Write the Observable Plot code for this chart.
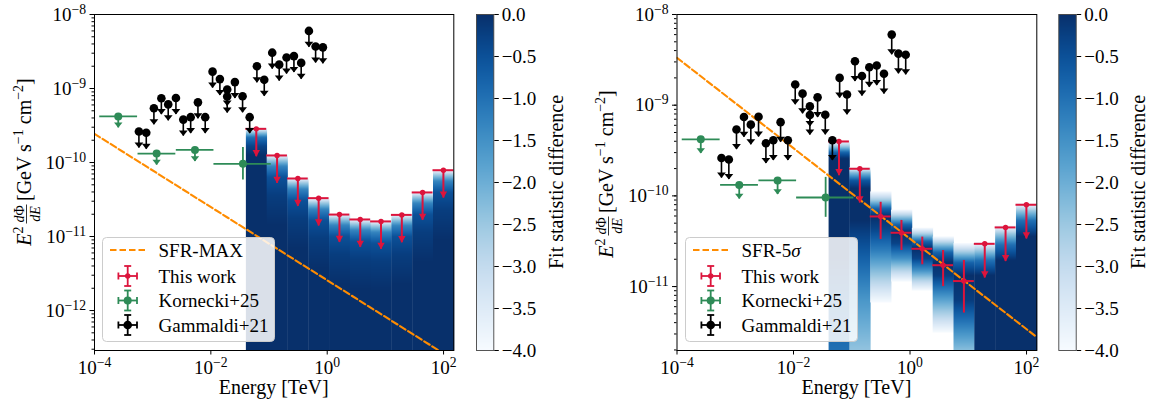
<!DOCTYPE html>
<html><head><meta charset="utf-8">
<script src="https://cdn.jsdelivr.net/npm/d3@7"></script>
<script src="https://cdn.jsdelivr.net/npm/@observablehq/plot@0.6"></script>
<style>
html,body{margin:0;padding:0;background:#fff;}
#root{position:relative;width:1153px;height:403px;overflow:hidden;}
</style></head><body><div id="root"></div>
<script>
// ---------------- data ----------------
// energy bins of "This work" [TeV]
const binEdges = [0.040, 0.0911, 0.2074, 0.4722, 1.0755, 2.449, 5.577, 12.70, 28.92, 65.86, 150];
const binCenters = [0.0604, 0.1375, 0.3130, 0.7127, 1.623, 3.696, 8.416, 19.17, 43.64, 99.4];

// This work, left panel (SFR-MAX): all upper limits, E^2 dPhi/dE [GeV s^-1 cm^-2]
const leftFlux = [2.85e-10, 1.245e-10, 6.08e-11, 3.3e-11, 1.98e-11, 1.70e-11, 1.60e-11, 1.96e-11, 3.94e-11, 7.87e-11];
const leftIsUL = [true, true, true, true, true, true, true, true, true, true];
const leftLo = [null, null, null, null, null, null, null, null, null, null];
const leftHi = [null, null, null, null, null, null, null, null, null, null];

// This work, right panel (SFR-5sigma)
const rightFlux = [3.98e-10, 1.99e-10, 5.93e-11, 3.92e-11, 2.61e-11, 1.72e-11, 1.15e-11, 2.96e-11, 4.49e-11, 7.98e-11];
const rightIsUL = [true, true, false, false, false, false, false, true, true, true];
const rightLo = [null, null, 3.3e-11, 2.5e-11, 1.74e-11, 1.0e-11, 5.1e-12, null, null, null];
const rightHi = [null, null, 8.5e-11, 5.36e-11, 3.51e-11, 2.5e-11, 1.94e-11, null, null, null];

// Gammaldi+21 upper limits
const gamE = [5.8e-4, 7.76e-4, 1.05e-3, 1.41e-3, 1.85e-3, 2.51e-3, 3.36e-3, 4.5e-3, 6.0e-3, 8.0e-3, 1.07e-2, 1.43e-2, 1.91e-2, 1.91e-2, 2.59e-2, 3.51e-2, 4.65e-2, 6.19e-2, 8.28e-2, 0.1135, 0.1496, 0.200, 0.268, 0.357, 0.485, 0.632, 0.843];
const gamF = [2.62e-10, 2.52e-10, 5.4e-10, 7.4e-10, 6.1e-10, 7.45e-10, 3.8e-10, 4.1e-10, 6.5e-10, 4.1e-10, 1.69e-9, 1.34e-9, 9.7e-10, 7.8e-10, 1.22e-9, 7.85e-10, 4.1e-10, 2.0e-9, 1.31e-9, 3.05e-9, 2.1e-9, 2.62e-9, 2.74e-9, 2.22e-9, 6.0e-9, 3.7e-9, 3.6e-9];

// Kornecki+25
const korE = [2.56e-4, 1.17e-3, 5.33e-3, 3.56e-2];
const korElo = [1.23e-4, 5.6e-4, 2.55e-3, 1.13e-2];
const korEhi = [5.5e-4, 2.5e-3, 1.13e-2, 0.109];
const korF = [4.2e-10, 1.32e-10, 1.48e-10, 9.6e-11];
const korIsUL = [true, true, true, false];
const korFlo = [null, null, null, 5.8e-11];
const korFhi = [null, null, null, 1.6e-10];

// SFR model lines (end points)
const sfrMaxE = [1e-4, 82];
const sfrMaxF = [2.44e-10, 2.9e-13];
const sfr5E = [1e-4, 150];
const sfr5F = [3.33e-9, 2.77e-12];

// fit statistic difference profiles per energy bin: [log10 flux, value]
const leftTS = [
  [[-9.527,-4],[-9.59,-2.5],[-9.66,-1.0],[-9.78,-0.3],[-9.9,0],[-12.541,0]],
  [[-9.892,-4],[-9.96,-2.6],[-10.05,-1.3],[-10.2,-0.5],[-10.45,-0.2],[-10.85,0],[-12.541,0]],
  [[-10.203,-4],[-10.27,-2.6],[-10.36,-1.3],[-10.51,-0.5],[-10.76,-0.2],[-11.16,0],[-12.541,0]],
  [[-10.473,-4],[-10.54,-2.6],[-10.63,-1.3],[-10.78,-0.5],[-11.03,-0.2],[-11.43,0],[-12.541,0]],
  [[-10.689,-4],[-10.756,-2.6],[-10.846,-1.3],[-10.996,-0.5],[-11.246,-0.2],[-11.646,0],[-12.541,0]],
  [[-10.757,-4],[-10.824,-2.6],[-10.914,-1.3],[-11.064,-0.5],[-11.314,-0.2],[-11.714,0],[-12.541,0]],
  [[-10.784,-4],[-10.851,-2.6],[-10.941,-1.3],[-11.091,-0.5],[-11.341,-0.2],[-11.741,0],[-12.541,0]],
  [[-10.695,-4],[-10.762,-2.6],[-10.852,-1.3],[-11.002,-0.5],[-11.252,-0.2],[-11.652,0],[-12.541,0]],
  [[-10.392,-4],[-10.459,-2.6],[-10.549,-1.3],[-10.699,-0.5],[-10.949,-0.2],[-11.349,0],[-12.541,0]],
  [[-10.095,-4],[-10.162,-2.6],[-10.252,-1.3],[-10.402,-0.5],[-10.652,-0.2],[-11.052,0],[-12.541,0]]
];
const rightTS = [
  [[-9.389,-4],[-9.455,-2.5],[-9.52,-0.8],[-9.588,0],[-10.657,0],[-11.153,-0.6],[-11.705,-1.0]],
  [[-9.684,-4],[-9.742,-2.3],[-9.83,-0.6],[-9.918,0],[-10.271,0],[-10.712,-0.8],[-11.153,-1.6],[-11.705,-2.4]],
  [[-9.951,-4],[-10.051,-2.5],[-10.139,-0.8],[-10.227,0],[-10.36,-0.3],[-10.602,-1.2],[-10.878,-2.5],[-11.175,-4]],
  [[-10.153,-4],[-10.227,-2.5],[-10.316,-0.8],[-10.404,0],[-10.525,-0.3],[-10.69,-1.5],[-10.822,-2.8],[-10.944,-4]],
  [[-10.352,-4],[-10.426,-2.5],[-10.503,-0.8],[-10.58,0],[-10.69,-0.3],[-10.822,-1.5],[-10.933,-2.8],[-11.043,-4]],
  [[-10.448,-4],[-10.525,-2.5],[-10.624,-0.8],[-10.734,0],[-10.878,-0.2],[-11.098,-1.5],[-11.319,-2.8],[-11.506,-4]],
  [[-10.521,-4],[-10.624,-2.5],[-10.734,-0.8],[-10.878,0],[-11.153,-0.2],[-11.374,-1.0],[-11.705,-2.3]],
  [[-10.51,-4],[-10.602,-2.5],[-10.712,-1.0],[-10.878,0],[-11.705,0]],
  [[-10.326,-4],[-10.415,-2.5],[-10.536,-1.0],[-10.712,0],[-11.705,0]],
  [[-10.08,-4],[-10.161,-2.5],[-10.271,-1.0],[-10.448,0],[-11.705,0]]
];

const xTicks = [1e-4, 1e-2, 1, 1e2];
const leftYTicks = [1e-12, 1e-11, 1e-10, 1e-9, 1e-8];
const rightYTicks = [1e-11, 1e-10, 1e-9, 1e-8];
const cbarTicks = [0, -0.5, -1, -1.5, -2, -2.5, -3, -3.5, -4];

// ---------------- style ----------------
const FONT = '"Liberation Serif", "DejaVu Serif", serif';
const RED = "#dc143c", GREEN = "#2e8b57", BLACK = "#000000", ORANGE = "#ff8c00";
const COLOR = {type: "linear", scheme: "blues", domain: [-4, 0], clamp: true};
const RED_ARROW = 0.42, GREEN_ARROW = 0.7, BLACK_ARROW = 0.6;
const NS = "http://www.w3.org/2000/svg";
const root = document.getElementById("root");

function caret(hr) {
  return {draw(ctx, size) {
    const r = Math.sqrt(size / Math.PI);
    ctx.moveTo(0, 0); ctx.lineTo(-r, -hr * r); ctx.lineTo(r, -hr * r); ctx.closePath();
  }};
}
const caretRed = caret(1.8), caretBlk = caret(1.25);

const powLabel = d => "10^" + String(Math.round(Math.log10(d))).replace("-", "\u2212");

function supify(svg) {
  for (const t of svg.querySelectorAll("text")) {
    const m = /^10\^(.+)$/.exec(t.textContent);
    if (!m) continue;
    while (t.firstChild) t.removeChild(t.firstChild);
    const a = document.createElementNS(NS, "tspan"); a.textContent = "10";
    const b = document.createElementNS(NS, "tspan"); b.textContent = m[1];
    b.setAttribute("dy", "-0.5em"); b.setAttribute("font-size", "0.72em");
    t.append(a, b);
  }
}

function heatRasters(profiles) {
  return profiles.map((knots, i) => {
    const pts = knots.flatMap(([lf, v]) => [{x: binEdges[i], y: 10 ** lf, v}, {x: binEdges[i + 1], y: 10 ** lf, v}]);
    return Plot.raster(pts, {x: "x", y: "y", fill: "v", interpolate: "barycentric",
      x1: binEdges[i], x2: binEdges[i + 1] * 1.015,
      y1: 10 ** knots[knots.length - 1][0], y2: 10 ** knots[0][0]});
  });
}

function mainPlot({profiles, flux, isUL, lo, hi, sfrE, sfrF, yLog0, yMajor, mL, mR}) {
  const red = binCenters.map((e, i) => ({e, lo: binEdges[i], hi: binEdges[i + 1], f: flux[i], ul: isUL[i], flo: lo[i], fhi: hi[i]}));
  const redUL = red.filter(d => d.ul), redDet = red.filter(d => !d.ul);
  const gam = gamE.map((e, i) => ({e, f: gamF[i]}));
  const kor = korE.map((e, i) => ({e, lo: korElo[i], hi: korEhi[i], f: korF[i], ul: korIsUL[i], flo: korFlo[i], fhi: korFhi[i]}));
  const korUL = kor.filter(d => d.ul), korDet = kor.filter(d => !d.ul);
  const sfr = sfrE.map((e, i) => ({e, f: sfrF[i]}));
  return Plot.plot({
    width: 470, height: 403, marginLeft: mL, marginRight: mR, marginTop: 14, marginBottom: 53,
    style: {fontFamily: FONT, fontSize: "19px", background: "transparent", color: "#000", overflow: "visible"},
    x: {type: "log", domain: [1e-4, 150]},
    y: {type: "log", domain: [10 ** yLog0, 1e-8]},
    color: COLOR,
    marks: [
      ...heatRasters(profiles),
      Plot.line(sfr, {x: "e", y: "f", stroke: ORANGE, strokeWidth: 2.1, strokeDasharray: "6.5,3", clip: true}),
      // this work
      Plot.ruleY(red, {y: "f", x1: "lo", x2: "hi", stroke: RED, strokeWidth: 2}),
      Plot.ruleX(redUL, {x: "e", y1: "f", y2: d => d.f * RED_ARROW, stroke: RED, strokeWidth: 2}),
      Plot.dot(redUL, {x: "e", y: d => d.f * RED_ARROW, symbol: caretRed, fill: RED, stroke: "none", r: 3.7}),
      Plot.ruleX(redDet, {x: "e", y1: "flo", y2: "fhi", stroke: RED, strokeWidth: 2}),
      Plot.dot(red, {x: "e", y: "f", fill: RED, stroke: "none", r: 2.7}),
      // Kornecki+25
      Plot.ruleY(kor, {y: "f", x1: "lo", x2: "hi", stroke: GREEN, strokeWidth: 1.8}),
      Plot.ruleX(korUL, {x: "e", y1: "f", y2: d => d.f * GREEN_ARROW, stroke: GREEN, strokeWidth: 1.8}),
      Plot.dot(korUL, {x: "e", y: d => d.f * GREEN_ARROW, symbol: caretBlk, fill: GREEN, stroke: "none", r: 4.2}),
      Plot.ruleX(korDet, {x: "e", y1: "flo", y2: "fhi", stroke: GREEN, strokeWidth: 1.8}),
      Plot.dot(kor, {x: "e", y: "f", fill: GREEN, stroke: "none", r: 4}),
      // Gammaldi+21
      Plot.ruleX(gam, {x: "e", y1: "f", y2: d => d.f * BLACK_ARROW, stroke: BLACK, strokeWidth: 1.6}),
      Plot.dot(gam, {x: "e", y: d => d.f * BLACK_ARROW, symbol: caretBlk, fill: BLACK, stroke: "none", r: 4.4}),
      Plot.dot(gam, {x: "e", y: "f", fill: BLACK, stroke: "none", r: 4.3}),
      // axes
      Plot.axisY({tickSize: 2.5, text: null, label: null}),
      Plot.axisY(yMajor, {tickSize: 4.5, tickPadding: 4, tickFormat: powLabel, label: null}),
      Plot.axisX(xTicks, {tickSize: 4.5, tickPadding: 5, tickFormat: powLabel, label: null}),
      Plot.frame({stroke: "#000", strokeWidth: 1})
    ]
  });
}

function colorbar(w, mL, mR) {
  return Plot.plot({
    width: w, height: 403, marginLeft: mL, marginRight: mR, marginTop: 14, marginBottom: 53,
    style: {fontFamily: FONT, fontSize: "19px", background: "transparent", color: "#000", overflow: "visible"},
    x: {domain: [0, 1], axis: null},
    y: {domain: [-4, 0], axis: null},
    color: COLOR,
    marks: [
      Plot.raster({fill: (x, y) => y, x1: 0, x2: 1, y1: -4, y2: 0, pixelSize: 1}),
      Plot.frame({stroke: "#444", strokeWidth: 0.9}),
      Plot.axisY(cbarTicks, {anchor: "right", tickSize: 4.5, tickPadding: 3.5, label: null,
        tickFormat: d => d === 0 ? "0.0" : "\u2212" + (-d).toFixed(1)})
    ]
  });
}

function place(node, left, top) {
  node.style.position = "absolute"; node.style.left = left + "px"; node.style.top = top + "px";
  root.appendChild(node); return node;
}
function mk(tag, attrs = {}, text) {
  const e = document.createElementNS(NS, tag);
  for (const k in attrs) e.setAttribute(k, attrs[k]);
  if (text != null) e.textContent = text;
  return e;
}

// y-axis label: E^2 dPhi/dE [GeV s^-1 cm^-2], rotated; xf = fraction centre along the label
function addYLabel(svg, bx, cy, xf) {
  const g = mk("g", {transform: `translate(${bx},${cy}) rotate(-90)`, "font-family": FONT, fill: "#000"});
  svg.appendChild(g);
  const e2 = mk("text", {x: xf - 12.5, y: 0, "font-size": 20, "text-anchor": "end"});
  e2.append(mk("tspan", {"font-style": "italic"}, "E"), mk("tspan", {dy: -8, "font-size": 14}, "2"));
  g.appendChild(e2);
  const num = mk("text", {x: xf, y: -7.5, "font-size": 14, "text-anchor": "middle"});
  num.append(mk("tspan", {"font-style": "italic"}, "d"), mk("tspan", {}, "\u03A6"));
  g.appendChild(num);
  g.appendChild(mk("text", {x: xf, y: 8.5, "font-size": 14, "font-style": "italic", "text-anchor": "middle"}, "dE"));
  g.appendChild(mk("line", {x1: xf - 9.5, x2: xf + 9.5, y1: -4.5, y2: -4.5, stroke: "#000", "stroke-width": 0.8}));
  const rest = mk("text", {x: xf + 13, y: 0, "font-size": 20, "text-anchor": "start"});
  rest.append(mk("tspan", {}, "[GeV s"), mk("tspan", {dy: -8, "font-size": 14}, "\u22121"),
    mk("tspan", {dy: 8}, " cm"), mk("tspan", {dy: -8, "font-size": 14}, "\u22122"), mk("tspan", {dy: 8}, "]"));
  g.appendChild(rest);
}

function addText(svg, x, y, str, attrs = {}) {
  const t = mk("text", Object.assign({x, y, "font-family": FONT, "font-size": 20, fill: "#000", "text-anchor": "middle"}, attrs), str);
  svg.appendChild(t); return t;
}

function legendSVG(sfrLabel) {
  const s = d3.create("svg").attr("width", 174).attr("height", 106)
    .style("font-family", FONT).style("font-size", "19px").style("overflow", "visible");
  s.append("rect").attr("x", 0.5).attr("y", 0.5).attr("width", 172).attr("height", 104).attr("rx", 4)
    .attr("fill", "white").attr("fill-opacity", 0.85).attr("stroke", "#cccccc");
  const rows = [13, 39, 63.5, 88];
  s.append("line").attr("x1", 8).attr("x2", 43).attr("y1", rows[0]).attr("y2", rows[0])
    .attr("stroke", ORANGE).attr("stroke-width", 2.1).attr("stroke-dasharray", "6.5,3");
  sfrLabel(s.append("text").attr("x", 56.5).attr("y", rows[0] + 6.5));
  [[RED, "This work", 2.7], [GREEN, "Kornecki+25", 4], [BLACK, "Gammaldi+21", 4.3]].forEach(([c, label, r], i) => {
    const cy = rows[i + 1], cx = 25.7;
    const g = s.append("g").attr("stroke", c).attr("stroke-width", 1.8);
    g.append("line").attr("x1", cx).attr("x2", cx).attr("y1", cy - 10).attr("y2", cy + 10);
    g.append("line").attr("x1", cx - 9.3).attr("x2", cx + 9.3).attr("y1", cy).attr("y2", cy);
    g.append("line").attr("x1", cx - 3.5).attr("x2", cx + 3.5).attr("y1", cy - 10).attr("y2", cy - 10);
    g.append("line").attr("x1", cx - 3.5).attr("x2", cx + 3.5).attr("y1", cy + 10).attr("y2", cy + 10);
    g.append("line").attr("x1", cx - 9.3).attr("x2", cx - 9.3).attr("y1", cy - 3.5).attr("y2", cy + 3.5);
    g.append("line").attr("x1", cx + 9.3).attr("x2", cx + 9.3).attr("y1", cy - 3.5).attr("y2", cy + 3.5);
    s.append("circle").attr("cx", cx).attr("cy", cy).attr("r", r).attr("fill", c);
    s.append("text").attr("x", 56.5).attr("y", cy + 6.5).text(label);
  });
  return s.node();
}

// ---------------- build ----------------
const pL = place(mainPlot({profiles: leftTS, flux: leftFlux, isUL: leftIsUL, lo: leftLo, hi: leftHi,
  sfrE: sfrMaxE, sfrF: sfrMaxF, yLog0: -12.54, yMajor: leftYTicks, mL: 94, mR: 16.7}), 0, 0);
const cL = place(colorbar(110, 6, 86.7), 470, 0);
const pR = place(mainPlot({profiles: rightTS, flux: rightFlux, isUL: rightIsUL, lo: rightLo, hi: rightHi,
  sfrE: sfr5E, sfrF: sfr5F, yLog0: -11.705, yMajor: rightYTicks, mL: 96.5, mR: 13.7}), 580, 0);
const cR = place(colorbar(101, 6.3, 77.3), 1052, 0);

[pL, pR, cL, cR].forEach(supify);
addYLabel(pL, 31, 170, -44);
addYLabel(pR, 33, 182, -44);
addText(pL, 273.7, 394, "Energy [TeV]");
addText(pR, 276.4, 394, "Energy [TeV]");
addText(cL, 93, 182, "Fit statistic difference", {transform: "rotate(-90 93 182)"});
addText(cR, 93, 182, "Fit statistic difference", {transform: "rotate(-90 93 182)"});

place(legendSVG(t => t.text("SFR-MAX")), 102, 237);
place(legendSVG(t => { t.append("tspan").text("SFR-5"); t.append("tspan").attr("font-style", "italic").text("\u03C3"); }), 685, 237);
</script></body></html>
